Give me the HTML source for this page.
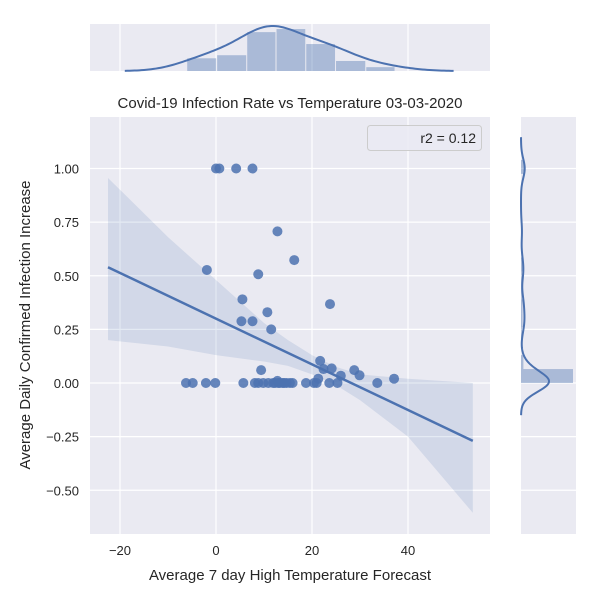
<!DOCTYPE html>
<html><head><meta charset="utf-8"><style>
body{margin:0;background:#fff;}
svg{display:block;font-family:"Liberation Sans",sans-serif;}
</style></head><body>
<svg id="c" width="600" height="600" viewBox="0 0 600 600"></svg>
<script>
const xVals=[0,0.7,4.2,7.6,12.8,16.3,-1.9,8.8,5.5,23.75,10.7,5.3,7.6,11.5,21.7,22.4,24.1,9.4,26,28.8,29.9,37.1,21.3,12.8,
 -6.25,-4.85,-2.1,-0.15,5.7,8.1,8.8,9.85,10.9,11.9,12.95,13.9,14.7,15.4,15.95,18.75,20.4,20.97,23.6,25.3,33.6,12.3,13.3,14.2];
const yVals=[1,1,1,1,0.707,0.573,0.527,0.507,0.39,0.368,0.33,0.288,0.288,0.25,0.103,0.065,0.068,0.06,0.034,0.06,0.036,0.02,0.02,0.01,
 0,0,0,0,0,0,0,0,0,0,0,0,0,0,0,0,0,0,0,0,0,0,0,0];
const xTicks=[-20,0,20,40];
const yTicks=[1.0,0.75,0.5,0.25,0,-0.25,-0.5];
const lineSlope=-0.01065, lineIntercept=0.30, lineX=[-22.5,53.5];
const bandX=[-22.5,-10,0,10,15,20,25,30,40,53.5];
const bandUpper=[0.956,0.68,0.48,0.28,0.20,0.13,0.075,0.04,0.02,0.0];
const bandLower=[0.20,0.17,0.13,0.10,0.08,0.04,-0.01,-0.08,-0.25,-0.605];
const topHistEdges=[-6.1,0.14,6.4,12.5,18.7,24.9,31.2,37.3];
const topHistCounts=[3.3,4.1,10.1,10.9,7,2.6,1];
const legendText="r2 = 0.12";

const NS="http://www.w3.org/2000/svg", svg=document.getElementById('c');
function mk(tag,attrs,parent){const e=document.createElementNS(NS,tag);for(const k in attrs)e.setAttribute(k,attrs[k]);(parent||svg).appendChild(e);return e;}
const fmt=s=>String(s).replace('-','\u2212');
const X=v=>216+4.8*v, Y=v=>383-214.5*v;
const L=90,R=490,T=117,B=534, BLUE="#4c72b0";

let e=mk('rect',{x:L,y:T,width:R-L,height:B-T,fill:"#eaeaf2"});

xTicks.forEach(t=>{mk('line',{x1:X(t),x2:X(t),y1:T,y2:B,stroke:"#fff","stroke-width":1.2});
 const tx=mk('text',{x:X(t),y:B+21,"text-anchor":"middle","font-size":13,fill:"#262626"});tx.textContent=fmt(t);
 });
yTicks.forEach(t=>{mk('line',{x1:L,x2:R,y1:Y(t),y2:Y(t),stroke:"#fff","stroke-width":1.2});
 const tx=mk('text',{x:L-11,y:Y(t)+5,"text-anchor":"end","font-size":13,fill:"#262626"});tx.textContent=fmt(t.toFixed(2));
 });

let d="";bandX.forEach((x,i)=>d+=(i?"L":"M")+X(x)+","+Y(bandUpper[i]));
for(let i=bandX.length-1;i>=0;i--)d+="L"+X(bandX[i])+","+Y(bandLower[i]);
e=mk('path',{d:d+"Z",fill:BLUE,"fill-opacity":0.15});

xVals.forEach((x,i)=>{const c=mk('circle',{cx:X(x),cy:Y(yVals[i]),r:5,fill:BLUE,"fill-opacity":0.85});
 });
e=mk('line',{x1:X(lineX[0]),y1:Y(lineIntercept+lineSlope*lineX[0]),x2:X(lineX[1]),y2:Y(lineIntercept+lineSlope*lineX[1]),stroke:BLUE,"stroke-width":2.5});


const lg=mk('g',{});
mk('rect',{x:367.5,y:125.5,width:114,height:25,rx:3,fill:"#eaeaf2","fill-opacity":0.8,stroke:"#ccc"},lg);
e=mk('text',{x:476,y:143,"text-anchor":"end","font-size":14,fill:"#262626"},lg);e.textContent=legendText;


e=mk('text',{x:290,y:108,"text-anchor":"middle","font-size":15,fill:"#262626"});e.textContent="Covid-19 Infection Rate vs Temperature 03-03-2020";

e=mk('text',{x:290,y:580,"text-anchor":"middle","font-size":15,fill:"#262626"});e.textContent="Average 7 day High Temperature Forecast";

e=mk('text',{x:0,y:0,"text-anchor":"middle","font-size":15,fill:"#262626",transform:"translate(30,325) rotate(-90)"});e.textContent="Average Daily Confirmed Infection Increase";


function kde(arr,g,h){return arr.reduce((s,v)=>s+Math.exp(-0.5*((g-v)/h)**2),0);}

const TT=24,TB=71;
e=mk('rect',{x:L,y:TT,width:R-L,height:TB-TT,fill:"#eaeaf2"});

xTicks.forEach(t=>mk('line',{x1:X(t),x2:X(t),y1:TT,y2:TB,stroke:"#fff","stroke-width":1.2}));
topHistCounts.forEach((c,i)=>{const x0=X(topHistEdges[i]),x1=X(topHistEdges[i+1]);
 const r=mk('rect',{x:x0+0.5,y:TB-c*3.85,width:x1-x0-1,height:c*3.85,fill:BLUE,"fill-opacity":0.4});
 });
let gx=[],gy=[];for(let v=-19;v<=49.8;v+=0.5){gx.push(v);gy.push(kde(xVals,v,5.2));}
let mx=Math.max(...gy);d="";gx.forEach((v,i)=>d+=(i?"L":"M")+X(v)+","+(TB-gy[i]/mx*45));
e=mk('path',{d:d,fill:"none",stroke:BLUE,"stroke-width":2});


const RL=521,RR=576;
e=mk('rect',{x:RL,y:T,width:RR-RL,height:B-T,fill:"#eaeaf2"});

yTicks.forEach(t=>mk('line',{x1:RL,x2:RR,y1:Y(t),y2:Y(t),stroke:"#fff","stroke-width":1.2}));
const bw=0.065,cnt={};yVals.forEach(v=>{const b=Math.min(Math.floor(v/bw),15);cnt[b]=(cnt[b]||0)+1;});
const maxc=Math.max(...Object.values(cnt));
for(const b in cnt){const w=cnt[b]===maxc?52:cnt[b]*0.8;
 const r=mk('rect',{x:RL,y:Y((+b+1)*bw),width:w,height:Y(0)-Y(bw),fill:BLUE,"fill-opacity":0.4});
 }
gx=[];gy=[];for(let v=-0.15;v<=1.15;v+=0.004){gx.push(v);gy.push(kde(yVals,v,0.045));}
mx=Math.max(...gy);d="";gx.forEach((v,i)=>d+=(i?"L":"M")+(RL+gy[i]/mx*28)+","+Y(v));
e=mk('path',{d:d,fill:"none",stroke:BLUE,"stroke-width":2});

</script>
</body></html>
